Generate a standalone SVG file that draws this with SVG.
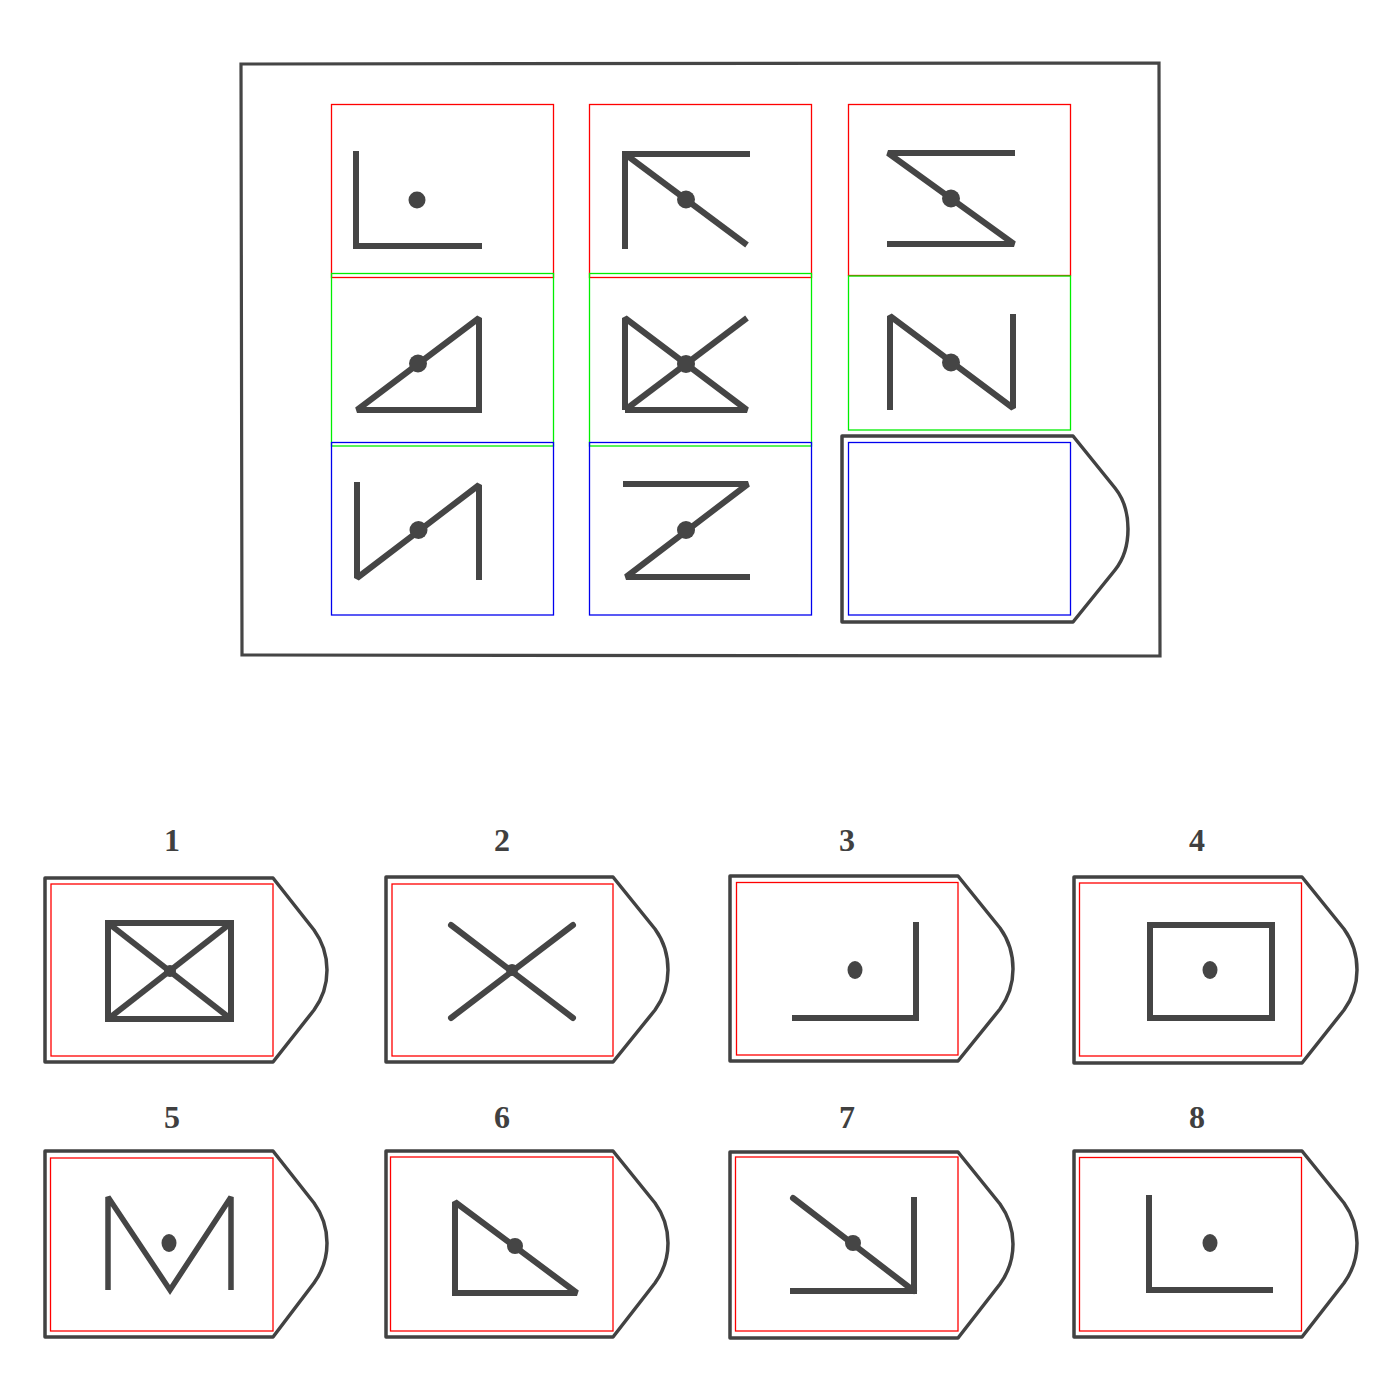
<svg xmlns="http://www.w3.org/2000/svg" width="1400" height="1400" viewBox="0 0 1400 1400">
<style>
.frame{fill:none;stroke:#454545;stroke-width:3.2}
.tag{fill:#fff;stroke:#424242;stroke-width:3.5;stroke-linejoin:round}
.fig{fill:none;stroke:#454545;stroke-width:6;stroke-linecap:butt;stroke-linejoin:miter;stroke-miterlimit:2}
.dot{fill:#454545}
.r{fill:none;stroke:#ff0000;stroke-width:1.3}
.g{fill:none;stroke:#00ee00;stroke-width:1.3}
.b{fill:none;stroke:#0000ee;stroke-width:1.3}
.lbl{font-family:"Liberation Serif",serif;font-weight:bold;font-size:32px;fill:#404040;text-anchor:middle}
</style>
<rect width="1400" height="1400" fill="#fff"/>
<g id="matrix-frame">
<polygon class="frame" points="241,64 1159,63 1160,656 242,655"/>
</g>
<g id="cell-1-1">
<rect class="r" x="331.5" y="104.5" width="222" height="173"/>
<polyline class="fig" points="356,151 356,246 482,246"/>
<circle class="dot" cx="417" cy="200" r="8.5"/>
</g>
<g id="cell-1-2">
<rect class="r" x="589.5" y="104.5" width="222" height="173"/>
<polyline class="fig" points="625,249 625,154 750,154"/>
<line class="fig" x1="625" y1="154" x2="747" y2="245"/>
<circle class="dot" cx="686" cy="199.5" r="9"/>
</g>
<g id="cell-1-3">
<rect class="r" x="848.5" y="104.5" width="222" height="171"/>
<polyline class="fig" points="1015,153 888,153 1014,244 887,244"/>
<circle class="dot" cx="951" cy="198.5" r="9"/>
</g>
<g id="cell-2-1">
<rect class="g" x="331.5" y="273.5" width="222" height="172.5"/>
<polygon class="fig" points="357,410 479,318 479,410"/>
<circle class="dot" cx="418" cy="363.5" r="9"/>
</g>
<g id="cell-2-2">
<rect class="g" x="589.5" y="273.5" width="222" height="172.5"/>
<polyline class="fig" points="625,410 625,318 747,410 625,410"/>
<line class="fig" x1="625" y1="410" x2="747" y2="318"/>
<circle class="dot" cx="686" cy="364" r="9"/>
</g>
<g id="cell-2-3">
<rect class="g" x="848.5" y="276" width="222" height="154"/>
<polyline class="fig" points="890,410 890,316 1013,408 1013,314"/>
<circle class="dot" cx="951" cy="362.5" r="9"/>
</g>
<g id="cell-3-1">
<rect class="b" x="331.5" y="442.5" width="222" height="172.5"/>
<polyline class="fig" points="357,482 357,578 479,485 479,580"/>
<circle class="dot" cx="418.5" cy="530" r="9"/>
</g>
<g id="cell-3-2">
<rect class="b" x="589.5" y="442.5" width="222" height="172.5"/>
<polyline class="fig" points="623,484 748,484 626,577 750,577"/>
<circle class="dot" cx="686" cy="530" r="9"/>
</g>
<g id="cell-3-3">
<path class="tag" d="M842,436 L1073,436 L1115,488 C1123,498 1128,512 1128,529 C1128,546 1123,560 1115,570 L1073,622 L842,622 Z"/>
<rect class="b" x="848.5" y="442.5" width="222" height="172.5"/>
</g>
<g id="option-1">
<text class="lbl" x="172" y="851">1</text>
<path class="tag" d="M45,878 L273,878 L314,930 C322,941 327,955 327,970 C327,985 322,999 314,1010 L273,1062 L45,1062 Z"/>
<rect class="r" x="51" y="884" width="222" height="172"/>
<rect class="fig" x="108" y="923" width="123" height="96"/>
<line class="fig" x1="108" y1="923" x2="231" y2="1019"/>
<line class="fig" x1="108" y1="1019" x2="231" y2="923"/>
<circle class="dot" cx="170" cy="971" r="6"/>
</g>
<g id="option-2">
<text class="lbl" x="502" y="851">2</text>
<path class="tag" d="M386,877 L613,877 L655,929 C663,940 668,954 668,970 C668,985 663,999 655,1010 L613,1062 L386,1062 Z"/>
<rect class="r" x="392" y="884" width="221" height="172"/>
<line class="fig" x1="451" y1="925" x2="573" y2="1018" style="stroke-linecap:round"/>
<line class="fig" x1="451" y1="1018" x2="573" y2="925" style="stroke-linecap:round"/>
<circle class="dot" cx="512" cy="970" r="6"/>
</g>
<g id="option-3">
<text class="lbl" x="847" y="851">3</text>
<path class="tag" d="M730,876 L958,876 L1000,928 C1008,939 1013,954 1013,969 C1013,984 1008,998 1000,1009 L958,1061 L730,1061 Z"/>
<rect class="r" x="736.5" y="882.5" width="221.5" height="172.5"/>
<polyline class="fig" points="916,922 916,1018 792,1018"/>
<ellipse class="dot" cx="855" cy="970" rx="7.5" ry="9"/>
</g>
<g id="option-4">
<text class="lbl" x="1197" y="851">4</text>
<path class="tag" d="M1074,877 L1302,877 L1344,929 C1352,940 1357,954 1357,970 C1357,985 1352,999 1344,1010 L1302,1063 L1074,1063 Z"/>
<rect class="r" x="1079.5" y="883" width="222" height="173"/>
<rect class="fig" x="1150" y="925" width="122" height="93"/>
<ellipse class="dot" cx="1210" cy="970" rx="7.5" ry="9"/>
</g>
<g id="option-5">
<text class="lbl" x="172" y="1128">5</text>
<path class="tag" d="M45,1151 L273,1151 L314,1203 C322,1214 327,1228 327,1243 C327,1258 322,1272 314,1283 L273,1337 L45,1337 Z"/>
<rect class="r" x="50.5" y="1158" width="222.5" height="173"/>
<polyline class="fig" points="108,1290 108,1197 170,1290 231,1197 231,1290" style="stroke-width:5.5"/>
<ellipse class="dot" cx="169" cy="1243" rx="7.5" ry="9"/>
</g>
<g id="option-6">
<text class="lbl" x="502" y="1128">6</text>
<path class="tag" d="M386,1151 L613,1151 L655,1203 C663,1214 668,1228 668,1243 C668,1258 663,1272 655,1283 L613,1337 L386,1337 Z"/>
<rect class="r" x="390.5" y="1157" width="222.5" height="174"/>
<polygon class="fig" points="455,1202 455,1293 577,1293"/>
<circle class="dot" cx="515" cy="1246" r="8"/>
</g>
<g id="option-7">
<text class="lbl" x="847" y="1128">7</text>
<path class="tag" d="M730,1152 L958,1152 L1000,1204 C1008,1215 1013,1229 1013,1244 C1013,1259 1008,1273 1000,1284 L958,1338 L730,1338 Z"/>
<rect class="r" x="735.5" y="1157" width="222.5" height="174"/>
<polyline class="fig" points="914,1197 914,1291 790,1291"/>
<line class="fig" x1="793" y1="1198" x2="914" y2="1291" style="stroke-linecap:round"/>
<circle class="dot" cx="853" cy="1243" r="8"/>
</g>
<g id="option-8">
<text class="lbl" x="1197" y="1128">8</text>
<path class="tag" d="M1074,1151 L1302,1151 L1344,1203 C1352,1214 1357,1228 1357,1243 C1357,1258 1352,1272 1344,1283 L1302,1337 L1074,1337 Z"/>
<rect class="r" x="1079.5" y="1157.5" width="222" height="173.5"/>
<polyline class="fig" points="1149,1195 1149,1290 1273,1290"/>
<ellipse class="dot" cx="1210" cy="1243" rx="7.5" ry="9"/>
</g>
</svg>
